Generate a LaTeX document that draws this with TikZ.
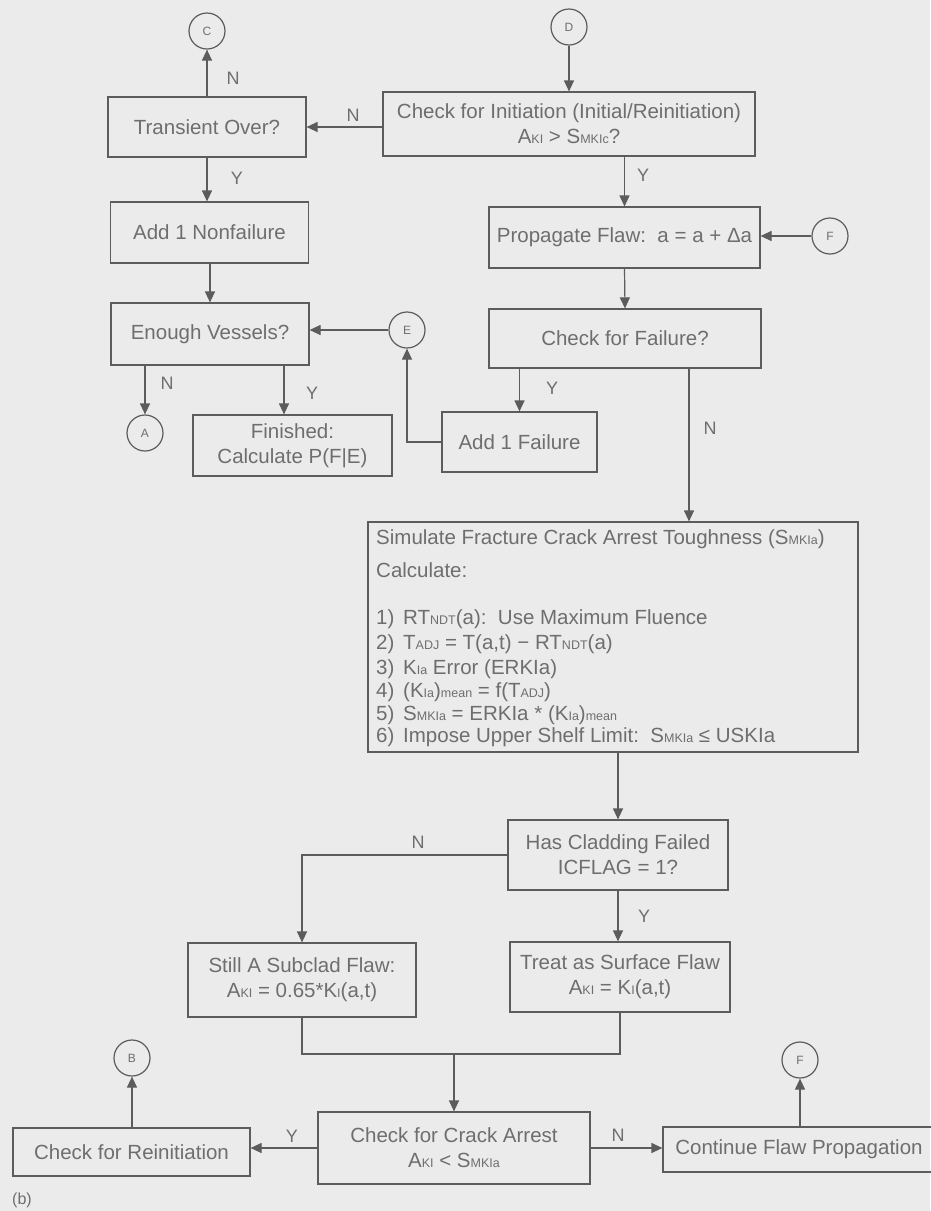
\documentclass[tikz,border=0pt]{standalone}
\usepackage{fontspec}
\setmainfont{Liberation Sans}
\usetikzlibrary{arrows.meta}
\definecolor{bgc}{HTML}{EBEBEB}
\definecolor{lnc}{HTML}{5C5C5C}
\definecolor{txc}{HTML}{6E6E6E}
\newcommand{\sm}[1]{{\fontsize{12.5}{12.5}\selectfont #1}}
\begin{document}
\begin{tikzpicture}[x=1pt,y=-1pt,
  flow/.style={draw=lnc, line width=1.2pt, text=txc, font=\fontsize{20.5}{25}\selectfont, align=center, inner sep=0pt},
  simtxt/.style={anchor=base west, text=txc, font=\fontsize{20.5}{25}\selectfont, inner sep=0pt},
  conn/.style={circle, draw=lnc, line width=1.2pt, minimum size=36pt, inner sep=0pt, text=txc, font=\fontsize{12}{12}\selectfont},
  arr/.style={draw=lnc, line width=1.2pt, -{Triangle[length=11pt,width=10pt]}},
  plain/.style={draw=lnc, line width=1.2pt},
  lab/.style={text=txc, font=\fontsize{18}{18}\selectfont, inner sep=0pt}]
\fill[bgc] (0,0) rectangle (930,1211);
\useasboundingbox (0,0) rectangle (930,1211);

% connectors (circles)
\node[conn] (C) at (207,31) {C};
\node[conn] (D) at (569,27) {D};
\node[conn] (E) at (407,330) {E};
\node[conn] (A) at (145,433) {A};
\node[conn] (F1) at (830,236) {F};
\node[conn] (B) at (132,1058) {B};
\node[conn] (F2) at (800,1060) {F};

% boxes
\node[flow, minimum width=198pt, minimum height=60pt] (trans) at (207,127) {Transient Over?};
\node[flow, minimum width=372pt, minimum height=64pt] (init) at (569,124) {Check for Initiation (Initial/Reinitiation)\\A\sm{KI} > S\sm{MKIc}?};
\node[flow, minimum width=198pt, minimum height=61pt] (nonf) at (209.5,232.5) {Add 1 Nonfailure};
\node[flow, minimum width=198pt, minimum height=62pt] (enough) at (210,334) {Enough Vessels?};
\node[flow, minimum width=199pt, minimum height=61pt] (fin) at (292.5,445.5) {Finished:\\Calculate P(F|E)};
\node[flow, minimum width=155pt, minimum height=60pt] (fail) at (519.5,442) {Add 1 Failure};
\node[flow, minimum width=271pt, minimum height=61pt] (prop) at (624.5,237.5) {Propagate Flaw:\ \ a = a + Δa};
\node[flow, minimum width=272pt, minimum height=59pt] (cfail) at (625,338.5) {Check for Failure?};
\node[flow, minimum width=490pt, minimum height=230pt] (sim) at (613,637) {};
\node[flow, minimum width=220pt, minimum height=70pt] (clad) at (618,855) {Has Cladding Failed\\ICFLAG = 1?};
\node[flow, minimum width=228pt, minimum height=74pt] (still) at (302,980) {Still A Subclad Flaw:\\A\sm{KI} = 0.65*K\sm{I}(a,t)};
\node[flow, minimum width=220pt, minimum height=70pt] (treat) at (620,977) {Treat as Surface Flaw\\A\sm{KI} = K\sm{I}(a,t)};
\node[flow, minimum width=272pt, minimum height=72pt] (arrest) at (454,1148) {Check for Crack Arrest\\A\sm{KI} < S\sm{MKIa}};
\node[flow, minimum width=237pt, minimum height=48pt] (reinit) at (131.5,1152) {Check for Reinitiation};
\node[flow, minimum width=272pt, minimum height=45pt] (cont) at (799,1149.5) {Continue Flaw Propagation};

% simulation box text
\node[simtxt] (s1) at (376,544) {Simulate Fracture Crack Arrest Toughness (S\sm{MKIa})};
\node[simtxt] (s2) at (376,577) {Calculate:};
\node[simtxt] (s3) at (376,624) {\makebox[27pt][l]{1)}RT\sm{NDT}(a):\ \ Use Maximum Fluence};
\node[simtxt] (s4) at (376,649) {\makebox[27pt][l]{2)}T\sm{ADJ} = T(a,t) − RT\sm{NDT}(a)};
\node[simtxt] (s5) at (376,674) {\makebox[27pt][l]{3)}K\sm{Ia} Error (ERKIa)};
\node[simtxt] (s6) at (376,697) {\makebox[27pt][l]{4)}(K\sm{Ia})\sm{mean} = f(T\sm{ADJ})};
\node[simtxt] (s7) at (376,720) {\makebox[27pt][l]{5)}S\sm{MKIa} = ERKIa * (K\sm{Ia})\sm{mean}};
\node[simtxt] (s8) at (376,742) {\makebox[27pt][l]{6)}Impose Upper Shelf Limit:\ \ S\sm{MKIa} ≤ USKIa};

% helper coordinates
\coordinate (yx) at (284,0);
\coordinate (nx) at (689,0);
\coordinate (mj) at (454,1054);

% arrows
\draw[arr] (trans.north) -- (C.south);
\draw[arr] (D.south) -- (init.north);
\draw[arr] (init.west |- trans) -- (trans.east);
\draw[arr] (trans.south) -- (trans.south |- nonf.north);
\draw[arr] (nonf.south -| enough.north) -- (enough.north);
\draw[arr] (enough.south -| A) -- (A.north);
\draw[arr] (enough.south -| yx) -- (fin.north -| yx);
\draw[arr] (E.west) -- (E.west -| enough.east);
\draw[arr] (fail.west) -| (E.south);
\draw[arr] (init.south -| prop.north) -- (prop.north);
\draw[arr] (F1.west) -- (F1.west -| prop.east);
\draw[arr] (prop.south) -- (cfail.north);
\draw[arr] (cfail.south -| fail.north) -- (fail.north);
\draw[arr] (cfail.south -| nx) -- (sim.north -| nx);
\draw[arr] (sim.south -| clad.north) -- (clad.north);
\draw[arr] (clad.west) -| (still.north);
\draw[arr] (clad.south) -- (clad.south |- treat.north);
\draw[plain] (still.south) |- (mj) -| (treat.south);
\draw[arr] (mj) -- (arrest.north);
\draw[arr] (arrest.west) -- (arrest.west -| reinit.east);
\draw[arr] (reinit.north -| B) -- (B.south);
\draw[arr] (arrest.east) -- (arrest.east -| cont.west);
\draw[arr] (cont.north -| F2) -- (F2.south);

% labels
\node[lab] (l1) at (233,78) {N};
\node[lab] (l2) at (353,115) {N};
\node[lab] (l3) at (237,178) {Y};
\node[lab] (l4) at (643,175) {Y};
\node[lab] (l5) at (167,383) {N};
\node[lab] (l6) at (312,393) {Y};
\node[lab] (l7) at (552,388) {Y};
\node[lab] (l8) at (710,428) {N};
\node[lab] (l9) at (418,842) {N};
\node[lab] (l10) at (644,916) {Y};
\node[lab] (l11) at (292,1136) {Y};
\node[lab] (l12) at (618,1135) {N};
\node[lab, font=\fontsize{16}{16}\selectfont, anchor=west] (lb) at (12,1200) {(b)};
\end{tikzpicture}
\end{document}
